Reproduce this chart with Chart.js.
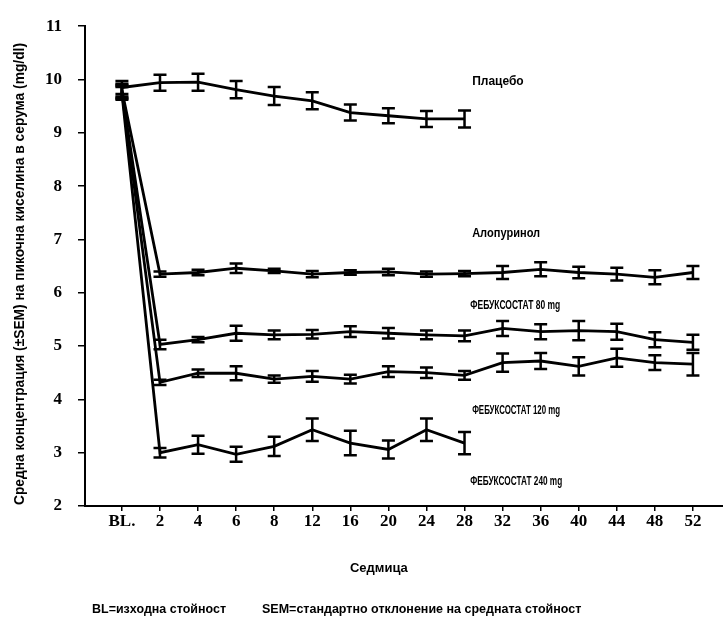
<!DOCTYPE html>
<html>
<head>
<meta charset="utf-8">
<script src="https://cdn.jsdelivr.net/npm/chart.js@4.4.1/dist/chart.umd.min.js"></script>
<style>
  html, body { margin: 0; padding: 0; background: #fff; }
  #wrap { width: 723px; height: 621px; position: relative; }
</style>
</head>
<body>
<div id="wrap"><canvas id="c" width="723" height="621"></canvas></div>
<script>
// ---------- data ----------
const categories = ['BL.', '2', '4', '6', '8', '12', '16', '20', '24', '28', '32', '36', '40', '44', '48', '52'];
const yTicks = [2, 3, 4, 5, 6, 7, 8, 9, 10, 11];

const seriesNames = ['Плацебо', 'Алопуринол', 'ФЕБУКСОСТАТ 80 mg', 'ФЕБУКСОСТАТ 120 mg', 'ФЕБУКСОСТАТ 240 mg'];

const placebo      = [9.85, 9.94, 9.95, 9.81, 9.69, 9.60, 9.38, 9.32, 9.26, 9.26];
const placeboSem   = [0.12, 0.15, 0.16, 0.16, 0.17, 0.16, 0.15, 0.14, 0.15, 0.16];

const allopurinol    = [9.80, 6.35, 6.38, 6.46, 6.41, 6.35, 6.38, 6.39, 6.35, 6.36, 6.38, 6.44, 6.38, 6.35, 6.29, 6.38];
const allopurinolSem = [0.12, 0.05, 0.05, 0.09, 0.04, 0.06, 0.04, 0.06, 0.05, 0.05, 0.12, 0.13, 0.11, 0.12, 0.13, 0.12];

const feb80    = [9.78, 5.03, 5.12, 5.24, 5.21, 5.22, 5.27, 5.24, 5.21, 5.19, 5.33, 5.27, 5.29, 5.27, 5.12, 5.07];
const feb80Sem = [0.12, 0.09, 0.05, 0.14, 0.08, 0.08, 0.10, 0.10, 0.08, 0.10, 0.14, 0.14, 0.18, 0.15, 0.14, 0.14];

const feb120    = [9.76, 4.32, 4.49, 4.49, 4.38, 4.43, 4.38, 4.52, 4.50, 4.45, 4.69, 4.72, 4.62, 4.78, 4.69, 4.66];
const feb120Sem = [0.12, 0.05, 0.07, 0.13, 0.07, 0.10, 0.08, 0.10, 0.10, 0.08, 0.17, 0.15, 0.17, 0.17, 0.14, 0.21];

const feb240    = [9.74, 3.00, 3.15, 2.97, 3.12, 3.43, 3.18, 3.06, 3.43, 3.18];
const feb240Sem = [0.12, 0.09, 0.17, 0.14, 0.18, 0.21, 0.23, 0.17, 0.21, 0.21];

const yTitle = 'Средна концентрация (±SEM) на пикочна киселина в серума (mg/dl)';
const xTitle = 'Седмица';
const footBL = 'BL=изходна стойност';
const footSEM = 'SEM=стандартно отклонение на средната стойност';

// ---------- helpers ----------
const allValues = [placebo, allopurinol, feb80, feb120, feb240];
const allSems = [placeboSem, allopurinolSem, feb80Sem, feb120Sem, feb240Sem];

function toPoints(vals) { return vals.map((v, i) => ({ x: i, y: v })); }

function pickNarrow() {
  const c = document.createElement('canvas').getContext('2d');
  const t = 'ФЕБУКСОСТАТ 80 mg';
  c.font = 'bold 20px "Liberation Sans Narrow", monospace';
  const a = c.measureText(t).width;
  c.font = 'bold 20px monospace';
  const b = c.measureText(t).width;
  return Math.abs(a - b) > 1 ? '"Liberation Sans Narrow"' : '"Liberation Sans"';
}
const narrow = pickNarrow();

// series label anchors (in data units) and max widths
const labelAnchors = [
  { x: 9.2, y: 9.95, w: 62 },
  { x: 9.2, y: 7.10, w: 68 },
  { x: 9.15, y: 5.76, w: 90 },
  { x: 9.2, y: 3.79, w: 88 },
  { x: 9.15, y: 2.45, w: 92 }
];

const errorBars = {
  id: 'errorBars',
  afterDatasetsDraw(chart) {
    const ctx = chart.ctx;
    const ys = chart.scales.y;
    ctx.save();
    ctx.strokeStyle = '#000';
    ctx.lineWidth = 2.5;
    ctx.lineCap = 'butt';
    chart.data.datasets.forEach((ds, di) => {
      const meta = chart.getDatasetMeta(di);
      const sem = allSems[di];
      meta.data.forEach((pt, j) => {
        const v = allValues[di][j];
        if (v == null) return;
        const x = pt.x;
        const yt = ys.getPixelForValue(v + sem[j]);
        const yb = ys.getPixelForValue(v - sem[j]);
        const cap = 6.5;
        ctx.beginPath();
        ctx.moveTo(x, yt); ctx.lineTo(x, yb);
        ctx.moveTo(x - cap, yt); ctx.lineTo(x + cap, yt);
        ctx.moveTo(x - cap, yb); ctx.lineTo(x + cap, yb);
        ctx.stroke();
      });
    });
    ctx.restore();
  }
};

const texts = {
  id: 'texts',
  afterDraw(chart) {
    const ctx = chart.ctx;
    const xs = chart.scales.x, ys = chart.scales.y;
    ctx.save();
    ctx.fillStyle = '#000';
    ctx.textBaseline = 'middle';
    ctx.textAlign = 'left';
    ctx.font = 'bold 12px ' + narrow + ', "Liberation Sans", sans-serif';
    seriesNames.forEach((n, i) => {
      const a = labelAnchors[i];
      ctx.fillText(n, xs.getPixelForValue(a.x), ys.getPixelForValue(a.y), a.w);
    });
    // x title
    ctx.textAlign = 'center';
    ctx.font = 'bold 13px "Liberation Sans", sans-serif';
    ctx.fillText(xTitle, xs.getPixelForValue(6.75), 568, 66);
    // footnotes
    ctx.textAlign = 'left';
    ctx.font = 'bold 12.5px "Liberation Sans", sans-serif';
    ctx.fillText(footBL, 92, 610, 134);
    ctx.fillText(footSEM, 262, 610, 362);
    // y title
    ctx.translate(20, 274);
    ctx.rotate(-Math.PI / 2);
    ctx.textAlign = 'center';
    ctx.font = 'bold 13.8px ' + narrow + ', "Liberation Sans", sans-serif';
    ctx.fillText(yTitle, 0, 0, 462);
    ctx.restore();
  }
};

const lineStyle = {
  borderColor: '#000',
  borderWidth: 2.8,
  pointRadius: 0,
  tension: 0,
  fill: false
};

const tickFont = { family: '"Liberation Serif", serif', weight: 'bold', size: 17 };

const chart = new Chart(document.getElementById('c'), {
  type: 'line',
  data: {
    datasets: allValues.map((vals, i) => Object.assign({ label: seriesNames[i], data: toPoints(vals) }, lineStyle))
  },
  options: {
    responsive: false,
    animation: false,
    layout: { padding: { top: 16, right: 0, left: 0, bottom: 0 } },
    plugins: { legend: { display: false }, tooltip: { enabled: false } },
    scales: {
      x: {
        type: 'linear',
        min: -0.97,
        max: 15.79,
        afterBuildTicks: s => { s.ticks = categories.map((c, i) => ({ value: i })); },
        afterFit: s => { s.height = 115; },
        ticks: {
          callback: v => categories[v],
          autoSkip: false,
          maxRotation: 0,
          color: '#000',
          padding: 0,
          font: tickFont
        },
        grid: { display: true, drawOnChartArea: false, drawTicks: true, tickLength: 5, color: '#000', lineWidth: 1.5 },
        border: { display: true, color: '#000', width: 2 }
      },
      y: {
        min: 2,
        max: 11,
        afterBuildTicks: s => { s.ticks = yTicks.map(v => ({ value: v })); },
        afterFit: s => { s.width = 85; },
        ticks: {
          autoSkip: false,
          color: '#000',
          padding: 16,
          font: tickFont
        },
        grid: { display: true, drawOnChartArea: false, drawTicks: true, tickLength: 7, color: '#000', lineWidth: 1.5 },
        border: { display: true, color: '#000', width: 2 }
      }
    }
  },
  plugins: [errorBars, texts]
});
</script>
</body>
</html>
